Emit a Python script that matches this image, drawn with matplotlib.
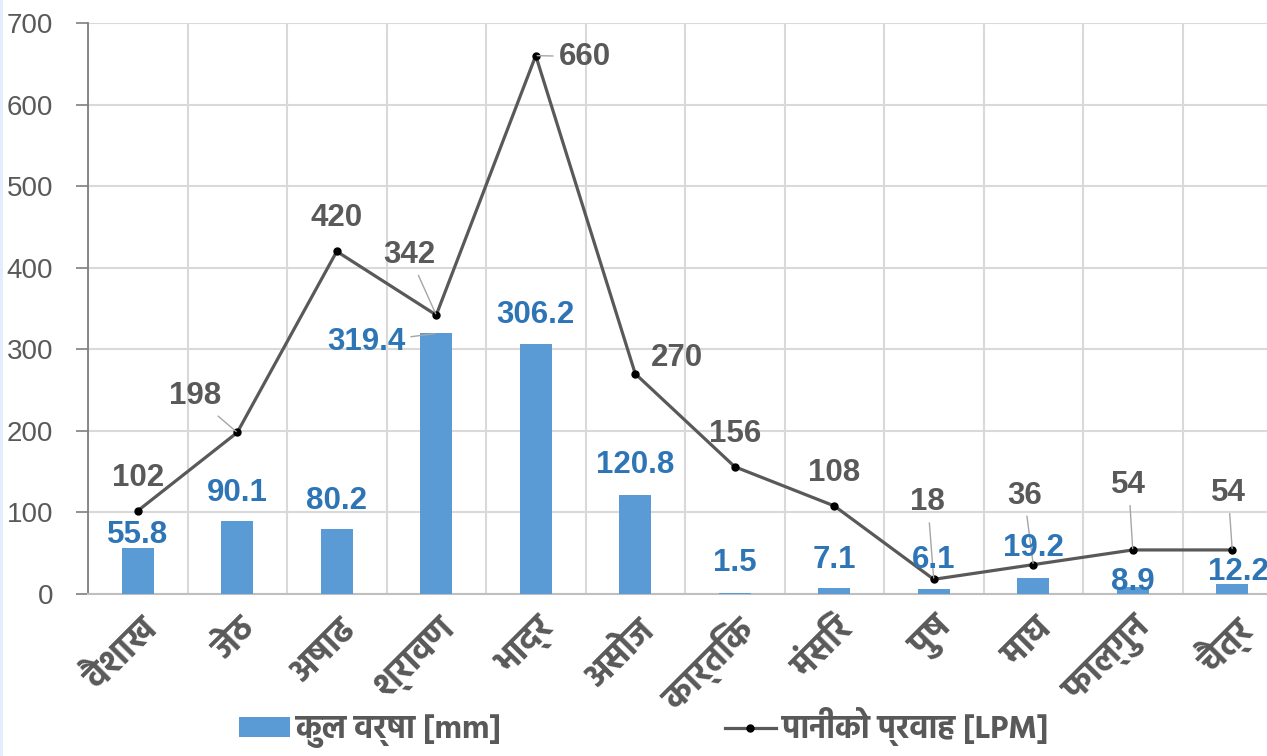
import matplotlib
matplotlib.use("Agg")
import matplotlib.pyplot as plt
from matplotlib.patches import Rectangle
from matplotlib.lines import Line2D
import matplotlib.transforms as mtransforms

# ---------------- data ----------------
months = ["वैशाख", "जेठ", "अषाढ", "श्रावण", "भाद्र", "असोज",
          "कार्तिक", "मंसिर", "पुष", "माघ", "फाल्गुन", "चैत्र"]
rain_mm = [55.8, 90.1, 80.2, 319.4, 306.2, 120.8, 1.5, 7.1, 6.1, 19.2, 8.9, 12.2]
flow_lpm = [102, 198, 420, 342, 660, 270, 156, 108, 18, 36, 54, 54]
rain_label = "कुल वर्षा [mm]"
flow_label = "पानीको प्रवाह [LPM]"
yticks = [0, 100, 200, 300, 400, 500, 600, 700]

# label offsets in pixels (dx, dy) and whether a leader line is drawn
flow_offsets = [(0, 33), (-42, 36), (0, 33), (-27, 60), (49, -1), (42, 16),
                (0, 33), (0, 33), (-6, 77), (-9, 69), (-4, 65), (-4, 57)]
flow_leader = [False, True, False, True, True, False,
               False, False, True, True, True, True]
rain_offsets = [(0, 13), (0, 28), (0, 28), (-70, -9), (0, 29), (0, 30),
                (0, 30), (0, 28), (0, 29), (0, 30), (0, 5), (6, 12)]
rain_leader = [False, False, False, True, False, False,
               False, False, False, False, False, False]

# ---------------- style ----------------
DEV = ["Hind", "Mukta", "Noto Sans Devanagari", "Liberation Sans", "DejaVu Sans"]
NUM = ["Liberation Sans", "DejaVu Sans"]
GRAY = "#595959"
BAR = "#5B9BD5"
BARTXT = "#2E75B6"
GRID = "#D9D9D9"

W, H = 1267, 756
fig = plt.figure(figsize=(W / 100, H / 100), dpi=100)
fig.patches.append(Rectangle((0, 0), 3 / W, 1, transform=fig.transFigure,
                             facecolor="#E3EEFA", edgecolor="none", zorder=0))

ax = fig.add_axes([88 / W, 162 / H, (1282 - 88) / W, (594 - 23) / H])
x = list(range(len(months)))

ax.bar(x, rain_mm, width=0.32, color=BAR, zorder=3)
ax.plot(x, flow_lpm, color=GRAY, lw=2.3, marker="o", markersize=5,
        markerfacecolor="black", markeredgecolor="black", zorder=4)

ax.set_xlim(-0.5, len(months) - 0.5)
ax.set_ylim(0, 700)
ax.set_yticks(yticks)
ax.set_yticklabels([str(v) for v in yticks], fontfamily=NUM, fontsize=20,
                   color=GRAY)

# vertical grid at category boundaries
ax.set_xticks([i - 0.5 for i in range(len(months) + 1)], minor=False)
ax.set_xticklabels([""] * (len(months) + 1))
ax.tick_params(axis="x", length=0)
ax.set_xticks(x, minor=True)
ax.set_xticklabels(months, minor=True, rotation=45, ha="right",
                   va="center", rotation_mode="anchor",
                   fontfamily=DEV, fontsize=25, fontweight="bold", color=GRAY)
ax.tick_params(axis="x", which="minor", length=0, pad=22)
for lab in ax.get_xticklabels(minor=True):
    lab.set_transform(lab.get_transform() +
                      mtransforms.ScaledTranslation(14 / 100, 0, fig.dpi_scale_trans))

ax.grid(True, which="major", color=GRID, lw=1.5, zorder=0)
ax.set_axisbelow(True)
ax.tick_params(axis="y", length=9, width=1.2, color="#7F7F7F", pad=16)
ax.spines["left"].set_color("#7F7F7F")
ax.spines["left"].set_linewidth(1.3)
ax.spines["bottom"].set_color("#BFBFBF")
ax.spines["bottom"].set_linewidth(1.5)
ax.spines["top"].set_visible(False)
ax.spines["right"].set_visible(False)

# data labels
for i, v in enumerate(flow_lpm):
    dx, dy = flow_offsets[i]
    ap = dict(arrowstyle="-", color="#A6A6A6", lw=1.0, shrinkA=2, shrinkB=1) if flow_leader[i] else None
    ax.annotate(str(v), (i, v), xytext=(dx, dy), textcoords="offset pixels",
                ha="center", va="center", fontfamily=NUM, fontsize=22.5,
                fontweight="bold", color=GRAY, arrowprops=ap, zorder=6)
for i, v in enumerate(rain_mm):
    dx, dy = rain_offsets[i]
    ap = dict(arrowstyle="-", color="#A6A6A6", lw=1.0, shrinkA=2, shrinkB=1) if rain_leader[i] else None
    ax.annotate(f"{v:.1f}", (i, v), xytext=(dx, dy), textcoords="offset pixels",
                ha="center", va="center", fontfamily=NUM, fontsize=22.5,
                fontweight="bold", color=BARTXT, arrowprops=ap, zorder=6)

# legend
handles = [Rectangle((0, 0), 1, 1, facecolor=BAR, edgecolor="none"),
           Line2D([], [], color=GRAY, lw=2.3, marker="o", markersize=5,
                  markerfacecolor="black", markeredgecolor="black")]
leg = fig.legend(handles, [rain_label, flow_label], loc="lower center",
                 bbox_to_anchor=(0.508, -0.028), ncol=2, frameon=False,
                 handlelength=1.6, handleheight=0.55, handletextpad=0.2,
                 columnspacing=7.0,
                 prop=dict(family=DEV, size=23, weight="bold"))
for t in leg.get_texts():
    t.set_color(GRAY)

fig.savefig("out.png", dpi=100)
